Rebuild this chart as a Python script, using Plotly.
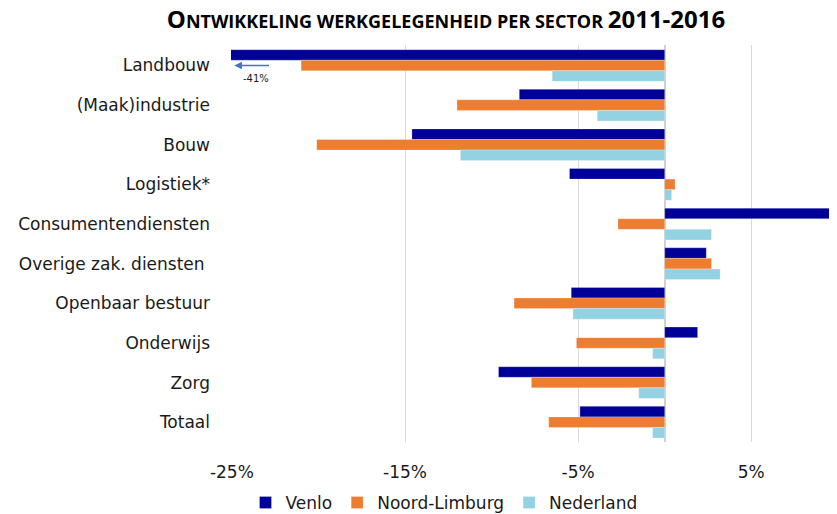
import plotly.graph_objects as go

categories = ["Landbouw", "(Maak)industrie", "Bouw", "Logistiek*", "Consumentendiensten",
              "Overige zak. diensten ", "Openbaar bestuur", "Onderwijs", "Zorg", "Totaal"]
venlo = [-41.0, -8.4, -14.6, -5.5, 11.0, 2.4, -5.4, 1.9, -9.6, -4.9]
noord_limburg = [-21.0, -12.0, -20.1, 0.6, -2.7, 2.7, -8.7, -5.1, -7.7, -6.7]
nederland = [-6.5, -3.9, -11.8, 0.4, 2.7, 3.2, -5.3, -0.7, -1.5, -0.7]
tick_vals = [-25, -15, -5, 5]
tick_text = ["-25%", "-15%", "-5%", "5%"]

series = [("Venlo", venlo, "#000099"),
          ("Noord-Limburg", noord_limburg, "#ED7D31"),
          ("Nederland", nederland, "#92D2E3")]

fig = go.Figure()
for name, vals, col in series:
    fig.add_trace(go.Bar(y=categories, x=vals, name=name, orientation="h",
                         marker=dict(color=col, line=dict(color="rgba(255,255,255,0.5)", width=0.5))))

# page has an 8px body margin; figure is sized/offset to compensate
W, H = 829, 506
L, R, T, B = 223, 0, 37, 72
LBL = "DejaVu Sans"
fig.update_layout(
    width=W, height=H,
    margin=dict(l=L, r=R, t=T, b=B, autoexpand=False),
    barmode="group", bargap=0.2, bargroupgap=0,
    plot_bgcolor="white", paper_bgcolor="white",
    font=dict(family=LBL, color="#1a1a1a"),
    title=dict(
        text="<b><span style='font-size:24px'>O</span>NTWIKKELING WERKGELEGENHEID PER SECTOR <span style='font-size:24px'>2011-2016</span></b>",
        x=438/W, xanchor="center", y=1-14/H, yanchor="middle",
        font=dict(family="Open Sans", size=18, color="#000000")),
    xaxis=dict(range=[-25.05, 9.95], tickvals=tick_vals, ticktext=tick_text,
               showgrid=True, gridcolor="#D9D9D9", gridwidth=1,
               zeroline=True, zerolinecolor="#D0D0D0", zerolinewidth=2,
               tickfont=dict(family=LBL, size=17, color="#1a1a1a"), ticklabelstandoff=18,
               showline=False),
    yaxis=dict(autorange="reversed", tickfont=dict(family=LBL, size=17, color="#1a1a1a"),
               ticklabelstandoff=20, showgrid=False, showline=False),
    legend=dict(orientation="h", x=(436-L)/(W-L-R), xanchor="center",
                y=-(495-(H-B))/(H-T-B), yanchor="middle",
                font=dict(family=LBL, size=17, color="#1a1a1a"), traceorder="normal",
                itemwidth=30),
    showlegend=True,
)

fig.add_annotation(x=-24.85, y="Landbouw", xref="x", yref="y", text="",
                   showarrow=True, ax=36, ay=0, arrowhead=2, arrowsize=1,
                   arrowwidth=1.5, arrowcolor="#4472C4")
fig.add_annotation(x=-23.6, y="Landbouw", xref="x", yref="y", text="-41%",
                   showarrow=False, yshift=-13, font=dict(family=LBL, size=10, color="#1a1a1a"))

fig.write_html("out.html")
